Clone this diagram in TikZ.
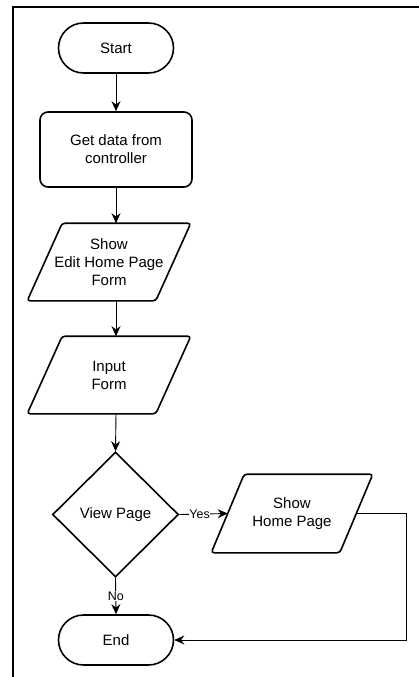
\documentclass[tikz,border=0pt]{standalone}
\usepackage{fontspec}
\setmainfont{Liberation Sans}
\usetikzlibrary{arrows.meta,shapes.geometric}
\tikzset{
  base/.style={font=\fontsize{15}{18}\selectfont, align=center, inner sep=0pt, line width=1.6pt},
  term/.style={base, draw, rounded corners=25pt, minimum width=115pt, minimum height=50pt},
  procbox/.style={base, draw, rounded corners=8pt, minimum width=152pt, minimum height=75pt},
  iobox/.style={base, draw=none, minimum width=162pt, minimum height=76pt},
  decbox/.style={base, draw, diamond, minimum width=126pt, minimum height=125pt},
  para/.style={line width=1.6pt, rounded corners=3pt},
  conn/.style={line width=0.9pt, -{Stealth[length=10pt,width=9pt]}},
  lbl/.style={font=\fontsize{12.5}{14}\selectfont, fill=white, inner sep=0.5pt},
  frame/.style={line width=2pt}
}
\begin{document}
\begin{tikzpicture}[x=1pt,y=-1pt]
\useasboundingbox (0,0) rectangle (419,677);
\draw[frame] (12.5,677) -- (12.5,7) -- (419,7);

\node[term] (start) at (116,48) {Start};
\node[procbox] (get) at (116,149.5) {Get data from\\controller};
\node[iobox] (show) at (109,262) {Show\\Edit Home Page\\Form};
\draw[para] ([xshift=35pt]show.north west) -- (show.north east) -- ([xshift=-35pt]show.south east) -- (show.south west) -- cycle;
\node[iobox] (inp) at (109,375) {Input\\Form};
\draw[para] ([xshift=35pt]inp.north west) -- (inp.north east) -- ([xshift=-35pt]inp.south east) -- (inp.south west) -- cycle;
\node[decbox] (dec) at (115.5,514.5) {View Page};
\node[iobox, minimum width=160pt, minimum height=77pt] (home) at (292,513.5) {Show\\Home Page};
\draw[para] ([xshift=33pt]home.north west) -- (home.north east) -- ([xshift=-33pt]home.south east) -- (home.south west) -- cycle;
\node[term] (end) at (116,640) {End};

\coordinate (homeout) at ([xshift=-16.5pt]home.east);
\coordinate (homein) at ([xshift=16.5pt]home.west);
\coordinate (corner1) at (406,513.5);
\coordinate (corner2) at (406,640);

\draw[conn] (start) -- (get);
\draw[conn] (get.south) -- (get.south |- show.north);
\draw[conn] (show.south -| get) -- (inp.north -| get);
\draw[conn] (inp.south -| get) -- (dec.north);
\draw[conn] (dec.east) -- node[lbl, pos=0.42] {Yes} (homein);
\draw[conn] (dec.south) -- node[lbl, pos=0.5] {No} (end.north);
\draw[conn] (homeout) -- (corner1) -- (corner2) -- (end.east);
\end{tikzpicture}
\end{document}
